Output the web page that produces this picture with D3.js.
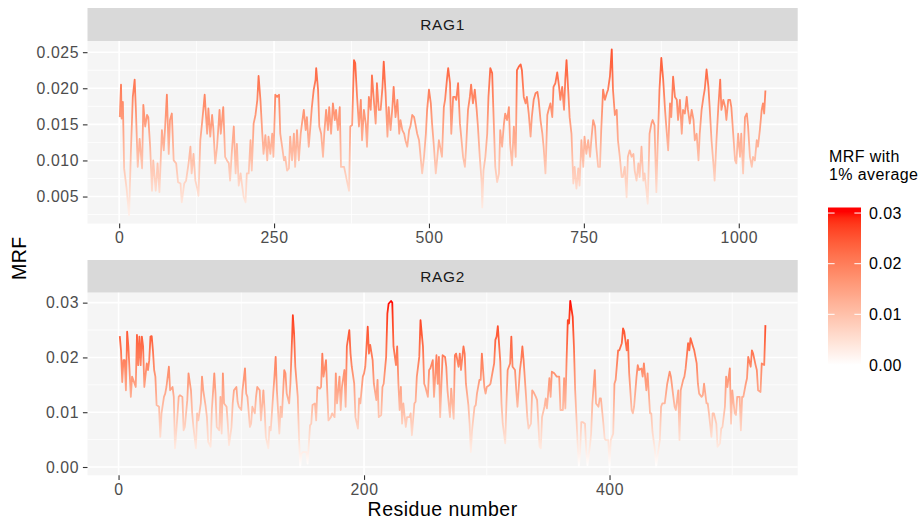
<!DOCTYPE html>
<html>
<head>
<meta charset="utf-8">
<script src="https://cdn.jsdelivr.net/npm/d3@7"></script>
<style>
  body { margin: 0; background: #ffffff; }
  text { font-family: "Liberation Sans", Arial, Helvetica, sans-serif; }
</style>
</head>
<body>
<svg id="chart" width="919" height="523"></svg>
<script>
// ---- Data: MRF (1% moving average) along each protein ----
const rag1Residue = [
  1,3,4,6,8,12,16,19,22,25,
  27,30,33,37,39,42,45,47,50,53,
  55,59,62,65,69,72,74,77,80,82,
  85,88,92,95,99,101,105,108,112,115,
  117,120,123,126,128,131,134,136,138,142,
  144,147,150,152,155,158,162,164,168,171,
  174,177,179,182,185,188,190,193,196,198,
  201,204,206,209,212,214,217,220,223,225,
  228,231,233,236,239,241,244,247,249,252,
  255,258,260,263,266,268,271,274,276,279,
  282,284,287,290,293,295,298,301,303,306,
  309,311,314,317,318,321,323,326,329,331,
  334,337,339,342,345,348,350,353,356,358,
  363,368,371,373,376,379,381,384,387,390,
  392,395,398,400,403,406,408,411,414,416,
  419,422,425,427,430,433,435,438,441,443,
  446,449,452,454,457,460,462,465,468,470,
  473,476,478,481,484,487,489,492,495,497,
  500,503,505,508,511,513,516,518,521,524,
  526,529,531,534,536,539,542,544,547,550,
  552,555,558,560,563,566,568,571,574,577,
  579,582,585,586,588,591,594,596,599,602,
  605,607,610,613,615,618,621,623,626,629,
  631,634,637,640,642,645,648,650,653,656,
  658,661,664,666,669,672,675,677,680,683,
  685,688,691,693,696,699,701,704,707,710,
  712,715,718,720,722,725,727,730,733,735,
  738,741,743,746,749,751,754,757,760,762,
  765,768,770,773,776,778,781,784,787,789,
  792,795,797,800,803,805,808,811,813,816,
  819,821,824,827,830,832,835,838,840,843,
  846,848,851,853,856,859,861,864,867,869,
  872,875,878,881,883,886,889,891,894,897,
  900,902,905,908,910,913,916,918,921,924,
  927,929,932,935,937,940,943,945,948,951,
  953,956,959,961,964,967,970,972,975,978,
  980,983,986,988,991,994,996,999,1002,1004,
  1007,1010,1013,1015,1018,1021,1023,1026,1029,1031,
  1034,1037,1039,1041,1043
];
const rag1Mrf = [
  .0160,.0205,.0158,.0181,.0089,.0061,.0024,.0114,.0188,.0212,
  .0170,.0091,.0130,.0089,.0177,.0147,.0163,.0160,.0119,.0058,
  .0100,.0058,.0096,.0056,.0142,.0114,.0144,.0191,.0109,.0156,
  .0165,.0100,.0096,.0070,.0068,.0042,.0068,.0072,.0096,.0119,
  .0082,.0109,.0072,.0061,.0051,.0128,.0154,.0172,.0191,.0137,
  .0172,.0133,.0163,.0144,.0096,.0119,.0170,.0137,.0174,.0105,
  .0100,.0096,.0072,.0114,.0147,.0082,.0123,.0065,.0082,.0068,
  .0049,.0042,.0082,.0082,.0128,.0086,.0151,.0163,.0184,.0217,
  .0184,.0137,.0109,.0135,.0100,.0133,.0109,.0137,.0105,.0191,
  .0188,.0191,.0137,.0119,.0100,.0105,.0086,.0089,.0133,.0100,
  .0137,.0091,.0142,.0100,.0137,.0151,.0170,.0142,.0160,.0119,
  .0151,.0174,.0198,.0212,.0228,.0198,.0147,.0137,.0105,.0137,
  .0170,.0142,.0174,.0137,.0179,.0156,.0170,.0142,.0174,.0091,
  .0091,.0070,.0058,.0147,.0149,.0239,.0235,.0188,.0147,.0184,
  .0128,.0170,.0151,.0119,.0188,.0170,.0218,.0184,.0151,.0207,
  .0170,.0170,.0202,.0237,.0193,.0133,.0174,.0142,.0174,.0202,
  .0160,.0184,.0137,.0156,.0142,.0137,.0128,.0119,.0142,.0147,
  .0163,.0160,.0151,.0137,.0128,.0100,.0082,.0105,.0137,.0170,
  .0198,.0179,.0151,.0119,.0082,.0100,.0128,.0119,.0105,.0174,
  .0184,.0212,.0228,.0207,.0137,.0188,.0188,.0184,.0207,.0151,
  .0133,.0105,.0091,.0119,.0170,.0188,.0205,.0179,.0198,.0170,
  .0147,.0105,.0070,.0035,.0086,.0105,.0137,.0188,.0228,.0221,
  .0142,.0091,.0070,.0082,.0142,.0119,.0151,.0165,.0156,.0174,
  .0123,.0093,.0147,.0105,.0225,.0230,.0233,.0225,.0188,.0179,
  .0188,.0165,.0133,.0160,.0184,.0193,.0195,.0184,.0156,.0137,
  .0119,.0082,.0163,.0170,.0179,.0160,.0202,.0207,.0222,.0202,
  .0184,.0202,.0170,.0212,.0239,.0193,.0160,.0137,.0068,.0091,
  .0061,.0089,.0065,.0128,.0091,.0133,.0109,.0128,.0105,.0128,
  .0156,.0147,.0119,.0091,.0091,.0142,.0198,.0184,.0193,.0198,
  .0216,.0254,.0198,.0163,.0170,.0128,.0105,.0077,.0077,.0091,
  .0049,.0105,.0114,.0105,.0109,.0086,.0072,.0096,.0077,.0119,
  .0072,.0082,.0058,.0040,.0137,.0151,.0156,.0149,.0056,.0119,
  .0198,.0242,.0212,.0170,.0147,.0114,.0179,.0160,.0216,.0188,
  .0184,.0156,.0184,.0137,.0170,.0165,.0188,.0170,.0151,.0170,
  .0156,.0128,.0137,.0100,.0137,.0170,.0188,.0198,.0226,.0202,
  .0174,.0128,.0096,.0072,.0128,.0174,.0212,.0170,.0184,.0174,
  .0156,.0184,.0184,.0174,.0137,.0100,.0096,.0137,.0105,.0137,
  .0082,.0160,.0165,.0147,.0105,.0091,.0105,.0100,.0128,.0119,
  .0142,.0170,.0179,.0165,.0197
];

const rag2Residue = [
  1,2,3,4,5,6,7,8,10,11,
  12,14,15,16,17,18,19,20,21,23,
  24,25,26,27,28,29,30,31,33,34,
  35,37,38,39,41,42,44,45,46,48,
  49,50,52,53,54,56,57,59,60,61,
  63,64,65,67,68,69,71,72,73,75,
  76,78,79,80,82,83,84,85,86,88,
  89,90,92,93,94,96,97,98,100,101,
  103,104,105,107,108,109,111,112,113,115,
  116,118,119,120,122,123,124,126,127,128,
  129,131,132,133,135,136,137,139,140,141,
  142,143,144,146,147,148,149,150,152,153,
  154,156,157,158,160,161,162,164,165,166,
  167,169,170,171,173,174,176,177,178,180,
  181,182,184,185,186,188,189,190,192,193,
  195,196,197,199,200,201,203,204,205,207,
  208,210,211,212,214,215,216,218,219,220,
  222,223,224,226,227,228,229,230,231,232,
  234,235,237,238,239,241,242,243,245,246,
  248,249,250,252,253,254,256,257,259,260,
  261,262,263,264,266,267,268,270,271,273,
  274,275,277,278,279,281,282,283,285,286,
  287,288,290,291,292,294,295,296,298,299,
  300,302,303,305,306,307,308,309,311,312,
  313,315,316,317,319,320,321,323,324,325,
  327,328,329,330,332,333,334,336,337,338,
  340,341,343,344,345,347,348,349,351,352,
  353,355,356,357,359,360,362,363,364,365,
  366,367,368,370,371,372,374,375,376,377,
  378,380,381,382,384,385,386,388,389,391,
  392,393,395,396,397,399,400,401,403,404,
  405,407,408,410,411,412,414,415,416,418,
  419,420,422,423,424,426,427,428,430,431,
  433,434,435,437,438,439,441,442,443,445,
  446,447,449,450,452,453,454,456,457,458,
  460,461,462,464,465,466,468,469,471,472,
  473,475,476,477,479,480,481,483,484,485,
  487,488,490,491,492,494,495,496,498,499,
  500,502,503,504,506,507,508,509,511,512,
  513,515,516,517,519,520,521,523,524,526,
  527
];
const rag2Mrf = [
  .0239,.0213,.0155,.0195,.0195,.0140,.0247,.0220,.0128,.0165,
  .0159,.0146,.0241,.0186,.0238,.0186,.0238,.0220,.0146,.0189,
  .0177,.0195,.0238,.0239,.0213,.0177,.0165,.0113,.0110,.0055,
  .0098,.0128,.0134,.0146,.0183,.0140,.0146,.0128,.0034,.0095,
  .0128,.0131,.0128,.0067,.0073,.0122,.0171,.0140,.0098,.0073,
  .0034,.0098,.0085,.0116,.0165,.0140,.0110,.0091,.0046,.0037,
  .0104,.0171,.0134,.0073,.0067,.0128,.0061,.0171,.0116,.0110,
  .0079,.0040,.0073,.0116,.0140,.0146,.0119,.0110,.0104,.0140,
  .0180,.0134,.0128,.0073,.0079,.0110,.0098,.0128,.0146,.0140,
  .0085,.0140,.0104,.0055,.0034,.0073,.0067,.0134,.0165,.0201,
  .0140,.0061,.0110,.0091,.0177,.0171,.0134,.0116,.0152,.0213,
  .0277,.0244,.0183,.0128,.0055,.0000,.0024,.0027,.0027,.0027,
  .0006,.0076,.0079,.0113,.0116,.0085,.0146,.0143,.0146,.0207,
  .0165,.0195,.0140,.0085,.0091,.0098,.0091,.0171,.0116,.0165,
  .0104,.0146,.0177,.0110,.0220,.0250,.0207,.0183,.0152,.0091,
  .0070,.0125,.0116,.0165,.0171,.0183,.0256,.0207,.0223,.0195,
  .0152,.0122,.0159,.0091,.0095,.0146,.0152,.0201,.0280,.0298,
  .0303,.0300,.0220,.0186,.0220,.0152,.0104,.0146,.0079,.0116,
  .0073,.0091,.0091,.0098,.0058,.0116,.0119,.0165,.0201,.0268,
  .0220,.0152,.0146,.0128,.0177,.0180,.0195,.0128,.0204,.0152,
  .0201,.0091,.0149,.0204,.0201,.0183,.0140,.0091,.0143,.0088,
  .0204,.0207,.0183,.0207,.0177,.0220,.0207,.0152,.0113,.0079,
  .0027,.0067,.0110,.0113,.0134,.0159,.0159,.0207,.0146,.0134,
  .0146,.0149,.0152,.0177,.0189,.0232,.0238,.0257,.0192,.0116,
  .0079,.0043,.0116,.0177,.0189,.0238,.0183,.0177,.0140,.0110,
  .0177,.0195,.0220,.0195,.0128,.0091,.0070,.0079,.0140,.0137,
  .0128,.0122,.0037,.0034,.0091,.0110,.0125,.0107,.0162,.0128,
  .0174,.0171,.0168,.0165,.0165,.0104,.0104,.0162,.0107,.0195,
  .0268,.0262,.0303,.0274,.0220,.0140,.0043,.0001,.0027,.0082,
  .0082,.0079,.0030,.0003,.0037,.0061,.0116,.0177,.0116,.0110,
  .0125,.0125,.0079,.0052,.0049,.0049,.0003,.0049,.0061,.0152,
  .0159,.0213,.0213,.0226,.0253,.0247,.0213,.0232,.0171,.0104,
  .0098,.0110,.0165,.0186,.0177,.0180,.0165,.0189,.0140,.0171,
  .0098,.0098,.0064,.0030,.0000,.0018,.0049,.0110,.0116,.0116,
  .0134,.0152,.0174,.0165,.0128,.0110,.0104,.0140,.0049,.0140,
  .0159,.0165,.0180,.0226,.0213,.0235,.0220,.0213,.0189,.0152,
  .0134,.0128,.0131,.0152,.0116,.0116,.0098,.0055,.0098,.0098,
  .0079,.0037,.0043,.0070,.0073,.0110,.0165,.0146,.0180,.0079,
  .0140,.0098,.0095,.0128,.0128,.0067,.0128,.0128,.0152,.0162,
  .0201,.0183,.0213,.0207,.0186,.0177,.0140,.0137,.0189,.0186,
  .0259
];

const panelNames = ["RAG1", "RAG2"];
const rag1XTicks = [0, 250, 500, 750, 1000];
const rag1YTicks = [0.005, 0.010, 0.015, 0.020, 0.025];
const rag2XTicks = [0, 200, 400];
const rag2YTicks = [0.00, 0.01, 0.02, 0.03];
const legendTicks = [0.00, 0.01, 0.02, 0.03];
const legendTitle = ["MRF with", "1% average"];
const xTitle = "Residue number";
const yTitle = "MRF";

// ---- Layout ----
const svg = d3.select("#chart");
const plotLeft = 87.5, plotRight = 797.7;
const tickLen = 4.6, tickPad = 3.8;
const axisFont = 15.8, stripFont = 15.4, titleFont = 19.5, legendFont = 16;
const axisSpacing = "0.6px", stripSpacing = "0.7px", titleSpacing = "0.5px", legendSpacing = "0.4px";

const panels = [
  { name: panelNames[0], residue: rag1Residue, mrf: rag1Mrf, xTicks: rag1XTicks,
    yTicks: rag1YTicks, yFmt: d3.format(".3f"), stripTop: 8, top: 41, bottom: 223.6 },
  { name: panelNames[1], residue: rag2Residue, mrf: rag2Mrf, xTicks: rag2XTicks,
    yTicks: rag2YTicks, yFmt: d3.format(".2f"), stripTop: 260, top: 292.7, bottom: 475.3 }
];

// continuous scale expansion (5% each side)
const expand = ([a, b]) => [a - 0.05 * (b - a), b + 0.05 * (b - a)];

// minor breaks halfway between the major ones
function minorBreaks(majors, domain) {
  const step = majors[1] - majors[0];
  const out = [];
  for (let v = majors[0] - step / 2; v <= majors[majors.length - 1] + step / 2 + 1e-12; v += step) {
    if (v >= domain[0] && v <= domain[1]) out.push(v);
  }
  return out;
}

// shared colour scale: white -> red in Lab space
const allMrf = rag1Mrf.concat(rag2Mrf);
const colourLimits = d3.extent(allMrf);
const colour = d3.scaleLinear().domain(colourLimits)
  .range(["#ffffff", "#ff0000"]).interpolate(d3.interpolateLab);

const defs = svg.append("defs");

function gradientStops(grad) {
  const n = 24;
  for (let k = 0; k <= n; k++) {
    const v = colourLimits[0] + (k / n) * (colourLimits[1] - colourLimits[0]);
    grad.append("stop").attr("offset", k / n).attr("stop-color", colour(v));
  }
}

panels.forEach((p, i) => {
  const x = d3.scaleLinear().domain(expand(d3.extent(p.residue))).range([plotLeft, plotRight]);
  const y = d3.scaleLinear().domain(expand(d3.extent(p.mrf))).range([p.bottom, p.top]);
  const g = svg.append("g");

  // strip
  g.append("rect").attr("x", plotLeft).attr("y", p.stripTop)
    .attr("width", plotRight - plotLeft).attr("height", p.top - p.stripTop)
    .attr("fill", "#d9d9d9");
  g.append("text").attr("x", (plotLeft + plotRight) / 2)
    .attr("y", (p.stripTop + p.top) / 2 + stripFont * 0.358)
    .attr("text-anchor", "middle").attr("font-size", stripFont)
    .attr("letter-spacing", stripSpacing)
    .attr("fill", "#1a1a1a").text(p.name);

  // panel background
  g.append("rect").attr("x", plotLeft).attr("y", p.top)
    .attr("width", plotRight - plotLeft).attr("height", p.bottom - p.top)
    .attr("fill", "#f5f5f5");

  // grid
  const grid = g.append("g").attr("stroke", "#ffffff").attr("fill", "none");
  minorBreaks(p.xTicks, x.domain()).forEach(v =>
    grid.append("line").attr("x1", x(v)).attr("x2", x(v)).attr("y1", p.top).attr("y2", p.bottom).attr("stroke-width", 0.8));
  minorBreaks(p.yTicks, y.domain()).forEach(v =>
    grid.append("line").attr("y1", y(v)).attr("y2", y(v)).attr("x1", plotLeft).attr("x2", plotRight).attr("stroke-width", 0.8));
  p.xTicks.forEach(v =>
    grid.append("line").attr("x1", x(v)).attr("x2", x(v)).attr("y1", p.top).attr("y2", p.bottom).attr("stroke-width", 1.6));
  p.yTicks.forEach(v =>
    grid.append("line").attr("y1", y(v)).attr("y2", y(v)).attr("x1", plotLeft).attr("x2", plotRight).attr("stroke-width", 1.6));

  // line coloured by its own value: vertical gradient in user space
  const grad = defs.append("linearGradient").attr("id", "mrf-grad-" + i)
    .attr("gradientUnits", "userSpaceOnUse")
    .attr("x1", 0).attr("x2", 0)
    .attr("y1", y(colourLimits[0])).attr("y2", y(colourLimits[1]));
  gradientStops(grad);

  const line = d3.line().x(j => x(p.residue[j])).y(j => y(p.mrf[j]));
  g.append("path").attr("d", line(d3.range(p.residue.length)))
    .attr("fill", "none").attr("stroke", "url(#mrf-grad-" + i + ")")
    .attr("stroke-width", 1.8).attr("stroke-linejoin", "round");

  // axes
  const ax = g.append("g").attr("transform", `translate(${plotLeft},0)`)
    .call(d3.axisLeft(y).tickValues(p.yTicks).tickFormat(p.yFmt)
      .tickSize(tickLen).tickPadding(tickPad));
  const bx = g.append("g").attr("transform", `translate(0,${p.bottom})`)
    .call(d3.axisBottom(x).tickValues(p.xTicks).tickFormat(d3.format("d"))
      .tickSize(tickLen).tickPadding(tickPad));
  [ax, bx].forEach(a => {
    a.select(".domain").remove();
    a.selectAll(".tick line").attr("stroke", "#333333").attr("stroke-width", 1.1);
    a.selectAll(".tick text").attr("fill", "#4d4d4d").attr("font-size", axisFont)
      .attr("letter-spacing", axisSpacing)
      .attr("font-family", "'Liberation Sans', Arial, sans-serif");
  });
});

// axis titles
svg.append("text").attr("x", (plotLeft + plotRight) / 2).attr("y", 516)
  .attr("text-anchor", "middle").attr("font-size", titleFont).attr("fill", "#000")
  .attr("letter-spacing", titleSpacing).text(xTitle);
svg.append("text").attr("transform", `translate(26,${(panels[0].top + panels[1].bottom) / 2}) rotate(-90)`)
  .attr("text-anchor", "middle").attr("font-size", titleFont).attr("fill", "#000")
  .attr("letter-spacing", titleSpacing).text(yTitle);

// ---- colour bar legend ----
const legendX = 828, barW = 33, barTop = 207.5, barBottom = 369;
const barLen = barBottom - barTop;
const nbin = 20;
const legendScale = d3.scaleLinear().domain(colourLimits)
  .range([barBottom - barLen * 0.5 / nbin, barTop + barLen * 0.5 / nbin]);

legendTitle.forEach((t, k) => {
  svg.append("text").attr("x", 829).attr("y", 161.5 + k * 18.5)
    .attr("font-size", legendFont).attr("letter-spacing", legendSpacing)
    .attr("fill", "#000").text(t);
});

const barGrad = defs.append("linearGradient").attr("id", "bar-grad")
  .attr("gradientUnits", "userSpaceOnUse")
  .attr("x1", 0).attr("x2", 0)
  .attr("y1", legendScale(colourLimits[0])).attr("y2", legendScale(colourLimits[1]));
gradientStops(barGrad);

svg.append("rect").attr("x", legendX).attr("y", barTop)
  .attr("width", barW).attr("height", barLen).attr("fill", "url(#bar-grad)");

const lg = svg.append("g");
legendTicks.forEach(v => {
  const yy = legendScale(v);
  lg.append("line").attr("x1", legendX).attr("x2", legendX + barW / 5)
    .attr("y1", yy).attr("y2", yy).attr("stroke", "#ffffff").attr("stroke-width", 1);
  lg.append("line").attr("x1", legendX + barW - barW / 5).attr("x2", legendX + barW)
    .attr("y1", yy).attr("y2", yy).attr("stroke", "#ffffff").attr("stroke-width", 1);
  lg.append("text").attr("x", 869).attr("y", yy + legendFont * 0.358)
    .attr("font-size", legendFont).attr("letter-spacing", legendSpacing)
    .attr("fill", "#000").text(d3.format(".2f")(v));
});
</script>
</body>
</html>
